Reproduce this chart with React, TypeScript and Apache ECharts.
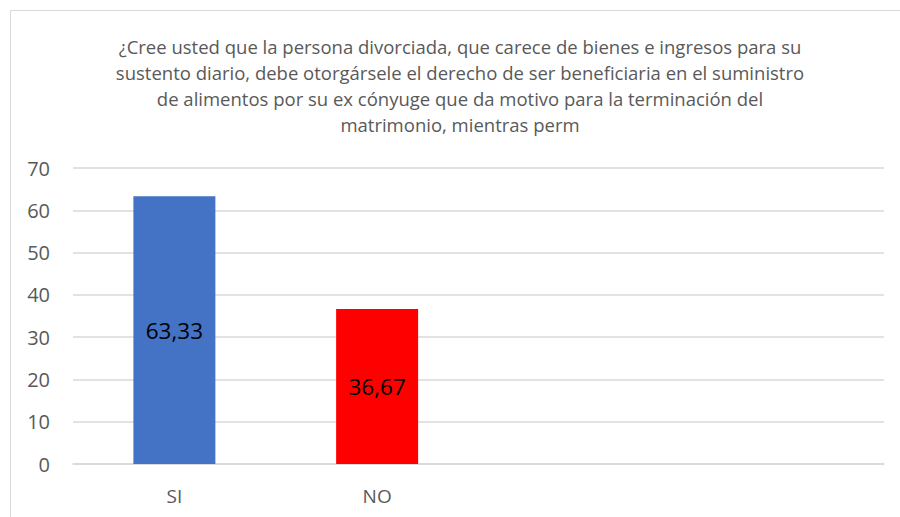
import React, { useEffect, useRef } from "react";
import * as echarts from "echarts";

const categories = ["SI", "NO", "", ""];
const values: (number | null)[] = [63.33, 36.67, null, null];
const barColors = ["#4472C4", "#FF0000", "#4472C4", "#4472C4"];
const yTicks = { min: 0, max: 70, interval: 10 };
const titleLines = [
  "¿Cree usted que la persona divorciada, que carece de bienes e ingresos para su",
  "sustento diario, debe otorgársele el derecho de ser beneficiaria en el suministro",
  "de alimentos por su ex cónyuge que da motivo para la terminación del",
  "matrimonio, mientras perm",
];

export default function App() {
  const ref = useRef<HTMLDivElement>(null);
  useEffect(() => {
    if (!ref.current) return;
    const chart = echarts.init(ref.current, null, { renderer: "svg" });
    chart.setOption({
      animation: false,
      backgroundColor: "#ffffff",
      textStyle: { fontFamily: "Open Sans" },
      graphic: [
        {
          type: "rect",
          shape: { x: 10.5, y: 10.5, width: 900, height: 520 },
          style: { fill: "none", stroke: "#d9d9d9", lineWidth: 1 },
          silent: true,
        },
        {
          type: "text",
          x: 460,
          y: 33,
          style: {
            text: titleLines.join("\n"),
            align: "center",
            verticalAlign: "top",
            fontFamily: "Open Sans",
            fontSize: 18.5,
            lineHeight: 26,
            fill: "#595959",
          },
        },
      ],
      grid: { left: 73, right: 16, top: 168, bottom: 53 },
      xAxis: {
        type: "category",
        data: categories,
        axisTick: { show: false },
        axisLine: { lineStyle: { color: "#d9d9d9", width: 1.5 } },
        axisLabel: { color: "#595959", fontSize: 19, margin: 22, fontFamily: "Open Sans" },
      },
      yAxis: {
        type: "value",
        min: yTicks.min,
        max: yTicks.max,
        interval: yTicks.interval,
        axisLine: { show: false },
        axisTick: { show: false },
        axisLabel: { color: "#595959", fontSize: 20, margin: 23, fontFamily: "Open Sans" },
        splitLine: { lineStyle: { color: "#d9d9d9", width: 1.5 } },
      },
      series: [
        {
          type: "bar",
          barWidth: 82,
          data: values.map((v, i) => ({ value: v, itemStyle: { color: barColors[i] } })),
          label: {
            show: true,
            position: "inside",
            color: "#000000",
            fontSize: 22.5,
            fontFamily: "Open Sans",
            formatter: (p: any) => (p.value == null ? "" : String(p.value).replace(".", ",")),
          },
        },
      ],
    });
    return () => chart.dispose();
  }, []);
  return (
    <div
      ref={ref}
      style={{ position: "absolute", left: 0, top: 0, width: 900, height: 517 }}
    />
  );
}
